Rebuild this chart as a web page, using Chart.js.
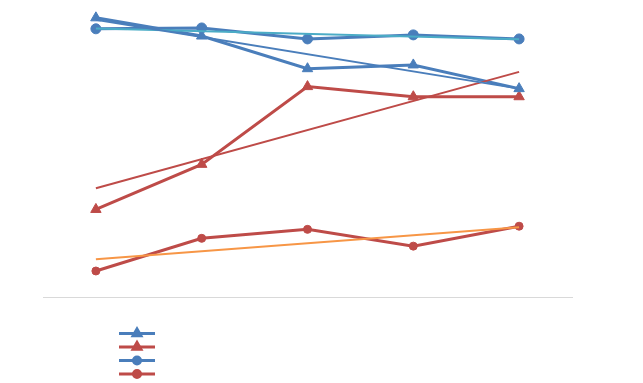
<!DOCTYPE html>
<html><head><meta charset="utf-8">
<script src="https://cdn.jsdelivr.net/npm/chart.js@4/dist/chart.umd.min.js"></script>
<style>html,body{margin:0;padding:0;background:#fff}#wrap{width:643px;height:383px}</style>
</head><body><div id="wrap"><canvas id="c"></canvas></div>
<script>
const categories = ["1", "2", "3", "4", "5"];
const seriesBlueTriangle = [96.6, 90.3, 79.0, 80.3, 72.1];
const seriesRedTriangle = [30.3, 45.9, 72.8, 69.3, 69.3];
const seriesBlueCircle = [92.8, 93.1, 89.3, 90.7, 89.3];
const seriesRedCircle = [9.0, 20.3, 23.4, 17.6, 24.5];
// trendline endpoints (first and last category)
const trendBlueTriangle = [95.9, null, null, null, 72.1];
const trendRedTriangle = [37.6, null, null, null, 77.9];
const trendBlueCircle = [92.9, null, null, null, 89.2];
const trendRedCircle = [13.1, null, null, null, 24.1];

const BLUE = '#4a7ebb', RED = '#be4b48', CYAN = '#4bacc6', ORANGE = '#f79646';

function trend(data, color) {
  return { label: '', data, borderColor: color, borderWidth: 2, pointRadius: 0, spanGaps: true,
    fill: false, tension: 0, order: 0, isTrend: true };
}
function series(label, data, color, style, r, lr) {
  return { label, data, borderColor: color, backgroundColor: color, borderWidth: 3,
    pointStyle: style, pointRadius: r, pointHoverRadius: r, pointBorderWidth: 1, fill: false, tension: 0, order: 1, legendRadius: lr };
}

const legendPlugin = {
  id: 'xlLegend',
  afterDraw(chart) {
    const ctx = chart.ctx;
    const items = chart.data.datasets.filter(d => !d.isTrend);
    items.forEach((d, i) => {
      const y = 333.5 + i * 13.5;
      ctx.save();
      ctx.strokeStyle = d.borderColor; ctx.lineWidth = 3;
      ctx.beginPath(); ctx.moveTo(119, y); ctx.lineTo(155, y); ctx.stroke();
      ctx.fillStyle = d.borderColor;
      Chart.helpers.drawPoint(ctx, { pointStyle: d.pointStyle, radius: d.legendRadius, rotation: 0, borderWidth: 1 }, 137, y);
      ctx.fill();
      ctx.restore();
    });
  }
};

new Chart(document.getElementById('c'), {
  type: 'line',
  data: {
    labels: categories,
    datasets: [
      series('Series 1', seriesBlueTriangle, BLUE, 'triangle', 6, 4.5),
      series('Series 2', seriesRedTriangle, RED, 'triangle', 6, 4.5),
      series('Series 3', seriesBlueCircle, BLUE, 'circle', 5, 3.5),
      series('Series 4', seriesRedCircle, RED, 'circle', 4, 3.5),
      trend(trendBlueTriangle, BLUE),
      trend(trendRedTriangle, RED),
      trend(trendBlueCircle, CYAN),
      trend(trendRedCircle, ORANGE)
    ]
  },
  options: {
    responsive: true, maintainAspectRatio: false, animation: false,
    layout: { padding: { left: 43, right: 71, top: 8, bottom: 86 } },
    plugins: { legend: { display: false }, tooltip: { enabled: false } },
    scales: {
      x: { offset: true, ticks: { display: false }, grid: { display: false, drawTicks: false },
           border: { display: true, color: '#d9d9d9', width: 1 } },
      y: { display: false, min: 0, max: 100 }
    }
  },
  plugins: [legendPlugin]
});
</script>
</body></html>
